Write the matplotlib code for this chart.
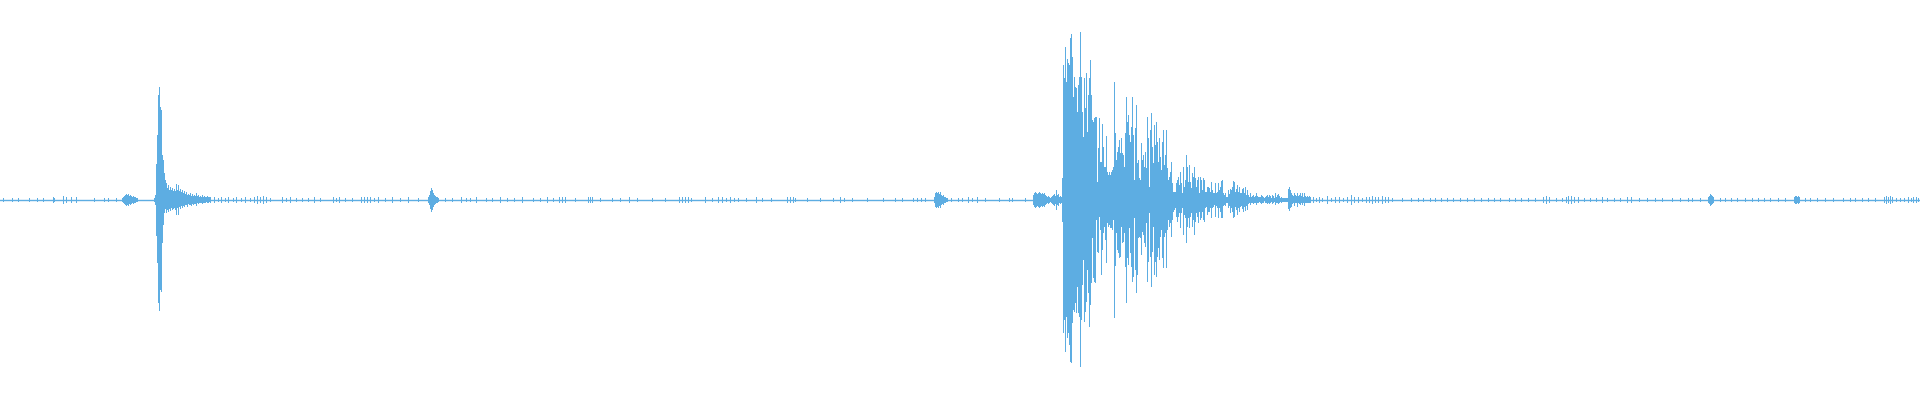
import matplotlib
matplotlib.use('Agg')
import matplotlib.pyplot as plt
import numpy as np

# waveform peak envelope, one value per display column (0..1920)
# levels are in units of 1/200 of full scale (top edge = +200, bottom = -200)
WAVE_COLOR = '#5dade2'
n_columns = 1920
full_scale = 200

# --- first hit (around column 159) ---
hit1_start = 154
hit1_top = [2, 5, 36, 65, 105, 113, 93, 90, 45, 40, 27, 20, 17, 12, 15, 10,
            13, 10, 12, 9, 11, 9, 16, 10, 15, 9, 11, 8, 10, 7, 9, 6,
            8, 5, 6, 5, 7, 4, 6, 4, 5, 4, 7, 4, 5, 3, 4, 3,
            5, 3, 4, 3, 3, 4, 3, 3, 3]
hit1_bot = [2, 5, 36, 63, 103, 111, 90, 92, 43, 25, 13, 9, 13, 10, 12, 9,
            11, 8, 10, 9, 8, 10, 15, 8, 15, 7, 9, 6, 8, 6, 7, 5,
            5, 7, 4, 5, 5, 6, 4, 5, 4, 4, 6, 3, 4, 3, 3, 3,
            4, 3, 3, 3, 2, 3, 3, 2, 3]

# --- main hit (starts at column 1062) ---
hit2_start = 1062
hit2_top = [22, 135, 122, 153, 118, 141, 137, 135, 162, 166, 143, 103, 123, 113, 112, 88,
            115, 123, 168, 123, 88, 63, 122, 92, 127, 68, 105, 122, 140, 105, 80, 78,
            82, 83, 83, 18, 52, 82, 38, 38, 76, 53, 33, 33, 64, 28, 25, 28,
            25, 28, 30, 33, 118, 67, 40, 48, 53, 60, 47, 62, 47, 45, 33, 67,
            103, 78, 85, 65, 58, 73, 103, 65, 20,
            72, 95, 37, 40, 22, 20, 57, 40, 45, 33, 48, 32, 83, 62, 13, 70,
            87, 53, 37, 75, 55, 78, 58, 38, 62, 43, 30, 58, 70, 35, 45, 70,
            32, 20, 23, 28, 38, 17, 8, 8, 8, 17, 20, 23, 15, 28, 17, 7,
            33, 13, 20, 45, 33, 18, 35, 18, 12, 27, 23, 33, 22, 13, 20, 23,
            7, 23, 20, 10, 22, 20, 8, 8, 13, 13, 12,
            8, 18, 10, 7, 7, 17, 7, 8, 17, 10, 13, 19, 20, 7, 5, 7,
            3, 3, 10, 6, 11, 10, 13, 19, 18, 8, 11, 15, 8, 13, 7, 7,
            11, 12, 7, 13, 5, 10, 5, 3, 7, 3, 4, 5, 3, 4, 7, 4,
            3, 3, 3, 5, 4, 3, 2, 3, 4, 5, 3, 5, 4, 2, 5, 4,
            2, 7, 3, 5, 6, 4, 2, 3, 2, 2, 2, 2, 2, 2, 11, 13,
            10, 7, 5, 4, 7, 5, 4, 7, 4, 5, 7, 4, 7, 3, 7, 4,
            3, 4, 3, 4, 3]
hit2_bot = [22, 133, 120, 152, 117, 138, 133, 145, 162, 163, 123, 110, 112, 103, 113, 87,
            113, 117, 167, 120, 85, 60, 122, 112, 102, 70, 93, 127, 105, 83, 38, 78,
            82, 83, 20, 52, 53, 17, 30, 75, 50, 33, 27, 40, 63, 23, 27, 25,
            28, 28, 30, 20, 118, 66, 33, 50, 53, 58, 57, 27, 43, 42, 33, 67,
            103, 58, 65, 28, 53, 67, 82, 77, 18,
            70, 93, 75, 38, 37, 38, 55, 32, 35, 43, 47, 23, 82, 62, 13, 57,
            87, 52, 27, 75, 62, 77, 57, 48, 60, 37, 30, 58, 68, 37, 33, 68,
            30, 20, 27, 23, 37, 20, 12, 10, 8, 17, 22, 17, 13, 28, 13, 8,
            35, 15, 18, 43, 27, 18, 28, 17, 13, 27, 20, 35, 22, 13, 17, 23,
            12, 20, 18, 12, 20, 22, 8, 7, 15, 12, 12,
            8, 18, 8, 7, 5, 17, 6, 8, 18, 8, 12, 18, 18, 6, 5, 6,
            3, 3, 8, 6, 13, 8, 12, 18, 17, 7, 10, 15, 8, 12, 7, 6,
            9, 12, 7, 11, 6, 10, 4, 3, 5, 3, 3, 4, 3, 3, 5, 3,
            3, 2, 3, 4, 3, 3, 1, 3, 3, 4, 3, 4, 3, 2, 4, 3,
            2, 5, 3, 3, 4, 3, 2, 3, 2, 2, 2, 2, 2, 2, 9, 11,
            8, 7, 4, 3, 6, 3, 3, 7, 3, 4, 5, 3, 5, 3, 6, 3,
            3, 3, 3, 3, 3]

# --- smaller bursts: start column -> peak levels (roughly symmetric) ---
small_bursts = {
    122: [2, 3, 4, 5, 6, 5, 6, 4, 5, 4, 3, 4, 3, 3, 2, 2],
    428: [3, 5, 9, 12, 10, 7, 5, 4, 3, 3, 2],
    934: [3, 7, 8, 7, 8, 6, 8, 5, 4, 5, 3, 3, 2, 2],
    1033: [5, 7, 8, 7, 6, 7, 8, 7, 6, 7, 6, 7, 5, 4, 3, 4,
           3, 2, 3, 4, 5, 6, 4, 10, 5, 6, 3, 4, 3],
}

# --- isolated noise ticks along the quiet stretches: (column, level) ---
noise_ticks = [
    (3, 2), (12, 2), (18, 2), (29, 2), (37, 2), (43, 2), (53, 3), (54, 2),
    (63, 4), (66, 3), (71, 3), (76, 3), (94, 2), (104, 2), (108, 2), (116, 2),
    (214, 3), (218, 2), (221, 3), (225, 2), (228, 3), (233, 2), (236, 3), (241, 2),
    (245, 3), (250, 2), (254, 3), (257, 4), (260, 3), (263, 4), (266, 3), (270, 2),
    (282, 3), (286, 2), (290, 3), (296, 2), (302, 2), (308, 2), (314, 3), (320, 2),
    (333, 3), (336, 2), (339, 3), (345, 2), (352, 2), (361, 3), (364, 3), (367, 3),
    (370, 3), (374, 2), (378, 3), (385, 2), (392, 3), (400, 2), (408, 3), (418, 2),
    (445, 2), (452, 2), (461, 3), (466, 2), (470, 2), (476, 3), (486, 2), (492, 2),
    (500, 3), (507, 2), (514, 2), (522, 3), (533, 2), (540, 2), (547, 3), (553, 2),
    (559, 3), (562, 3), (565, 3), (575, 2), (588, 3), (590, 3), (592, 3), (600, 2),
    (612, 2), (620, 2), (629, 3), (637, 2), (652, 2), (665, 2), (679, 3), (682, 3),
    (685, 3), (688, 3), (691, 2), (705, 3), (712, 2), (718, 3), (722, 3), (726, 2),
    (730, 3), (734, 2), (738, 2), (746, 2), (756, 3), (762, 2), (771, 2), (787, 3),
    (790, 3), (793, 3), (795, 2), (807, 2), (820, 2), (833, 2), (840, 3), (844, 2),
    (852, 2), (867, 2), (883, 2), (895, 2), (902, 2), (913, 2), (917, 2), (921, 2),
    (925, 2), (951, 2), (958, 2), (962, 2), (968, 3), (972, 2), (977, 3), (985, 2),
    (999, 2), (1009, 2), (1012, 2), (1025, 2),
    (1313, 3), (1316, 2), (1319, 3), (1322, 2), (1327, 4), (1331, 2), (1335, 3), (1339, 3),
    (1343, 2), (1347, 3), (1351, 5), (1354, 3), (1358, 3), (1362, 2), (1366, 3), (1369, 3),
    (1372, 4), (1375, 3), (1378, 3), (1382, 4), (1385, 3), (1388, 3), (1392, 2), (1402, 2),
    (1411, 2), (1418, 2), (1423, 2), (1430, 2), (1435, 2), (1441, 2), (1447, 2), (1453, 2),
    (1460, 2), (1467, 2), (1474, 2), (1481, 2), (1488, 2), (1494, 2), (1500, 2), (1509, 2),
    (1515, 2), (1521, 2), (1528, 2), (1535, 2), (1543, 3), (1546, 4), (1549, 3), (1556, 2),
    (1562, 2), (1566, 3), (1568, 4), (1571, 4), (1574, 3), (1578, 3), (1584, 2), (1590, 2),
    (1596, 2), (1602, 3), (1607, 2), (1614, 2), (1620, 2), (1627, 3), (1631, 3), (1639, 2),
    (1647, 2), (1655, 2), (1662, 2), (1672, 2), (1680, 2), (1688, 2), (1692, 2), (1700, 2),
    (1708, 3), (1709, 4), (1710, 6), (1711, 5), (1712, 4), (1713, 3), (1720, 2), (1725, 2),
    (1731, 2), (1737, 2), (1745, 2), (1752, 2), (1758, 2), (1764, 2), (1770, 2), (1778, 2),
    (1785, 2), (1794, 3), (1795, 4), (1796, 4), (1797, 3), (1798, 4), (1799, 3), (1805, 2),
    (1810, 2), (1817, 2), (1825, 2), (1833, 2), (1843, 2), (1850, 2), (1855, 2), (1862, 2),
    (1868, 2), (1875, 2), (1884, 3), (1886, 4), (1888, 3), (1890, 4), (1892, 3), (1896, 2),
    (1900, 2), (1904, 2), (1908, 3), (1911, 2), (1913, 3), (1916, 3), (1918, 2),
]


fig = plt.figure(figsize=(19.2, 4), dpi=100)
ax = fig.add_axes([0, 0, 1, 1])


def draw_envelope(start, top, bot):
    top = np.asarray(top, dtype=float)
    bot = np.asarray(bot, dtype=float)
    cols = start + np.arange(len(top))
    ax.bar(cols, top + bot, bottom=-bot, width=1.0, align='edge',
           color=WAVE_COLOR, linewidth=0)


# silent floor
ax.axhline(0, color=WAVE_COLOR, linewidth=1.0)

draw_envelope(hit1_start, hit1_top, hit1_bot)
draw_envelope(hit2_start, hit2_top, hit2_bot)
for start, levels in small_bursts.items():
    draw_envelope(start, levels, levels)

tick_cols, tick_levels = zip(*noise_ticks)
draw_envelope_cols = np.asarray(tick_cols)
tick_levels = np.asarray(tick_levels, dtype=float)
ax.bar(draw_envelope_cols, 2 * tick_levels, bottom=-tick_levels, width=1.0,
       align='edge', color=WAVE_COLOR, linewidth=0)

ax.set_xlim(0, n_columns)
ax.set_ylim(-full_scale, full_scale)
ax.axis('off')

fig.savefig('out.png', dpi=100, facecolor='white')
